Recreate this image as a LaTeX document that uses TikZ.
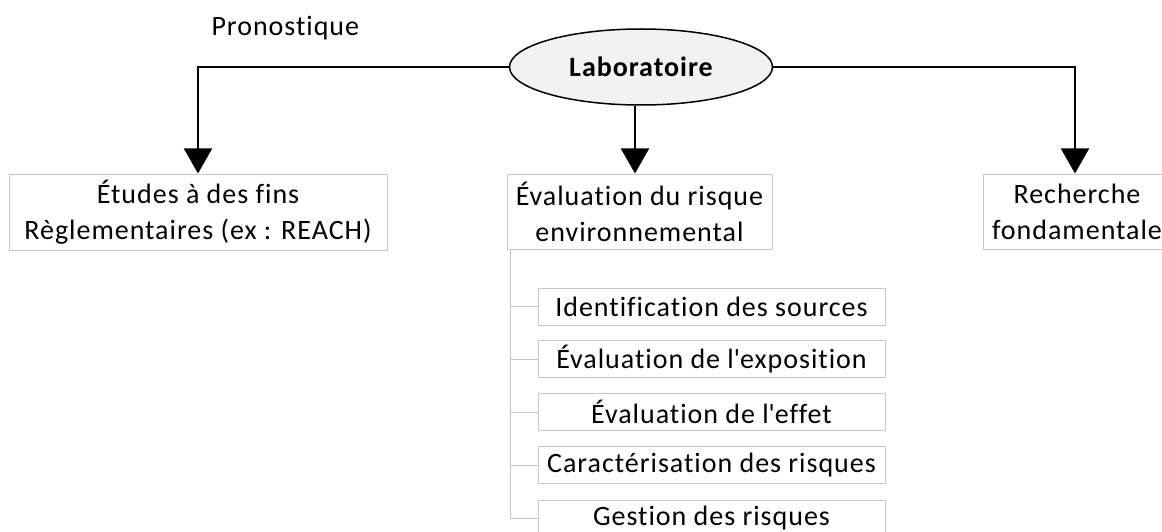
\documentclass[tikz,border=0pt]{standalone}
\usepackage{fontspec}
\setmainfont[Ligatures={NoCommon},LetterSpace=3.5]{Carlito}
\usetikzlibrary{arrows.meta,shapes.geometric,calc}
\definecolor{boxgray}{HTML}{C8C8C8}
\definecolor{ellfill}{HTML}{F2F2F2}
\tikzset{
  box/.style={draw=boxgray,line width=1pt,rectangle,align=center,inner sep=0pt,
    font=\fontsize{28}{36}\selectfont},
  subbox/.style={box,minimum width=347pt,minimum height=37pt},
  conn/.style={line width=1.8pt,-{Triangle[width=28pt,length=25pt]}},
  tree/.style={draw=boxgray,line width=1pt}
}
\begin{document}
\begin{tikzpicture}[x=1pt,y=-1pt]
\useasboundingbox (0,0) rectangle (1162,532);
\node[anchor=west,font=\fontsize{28}{32}\selectfont] (pro) at (208,28) {Pronostique};
\node[ellipse,draw=black,fill=ellfill,line width=1.5pt,minimum width=263pt,minimum height=76pt,inner sep=0pt,
  font=\fontsize{28}{32}\selectfont\bfseries] (lab) at (641,67) {Laboratoire};
\node[box,minimum width=378pt,minimum height=76pt] (etu) at (198,212) {Études à des fins\\Règlementaires (ex : REACH)};
\node[box,minimum width=265pt,minimum height=75pt] (eva) at (639.5,211.5) {Évaluation du risque\\environnemental};
\node[box,minimum width=188pt,minimum height=75pt] (rec) at (1077,211.5) {Recherche\\fondamentale};
\node[subbox] (s1) at (711.5,306.5) {Identification des sources};
\node[subbox] (s2) at (711.5,359) {Évaluation de l\textquotesingle exposition};
\node[subbox] (s3) at (711.5,412) {Évaluation de l\textquotesingle effet};
\node[subbox] (s4) at (711.5,465) {Caractérisation des risques};
\node[subbox] (s5) at (711.5,518.5) {Gestion des risques};
\draw[conn] (lab.west) -| (etu.north);
\draw[conn] (lab.east) -| ($(rec.north)+(-2,0)$);
\draw[conn] ($(lab.south)+(-6,0)$) -- ($(eva.north)+(-4.5,0)$);
\coordinate (tr) at ($(eva.south west)+(4,0)$);
\draw[tree] (tr) |- (s5.west);
\foreach \s in {s1,s2,s3,s4} { \draw[tree] (tr |- \s.west) -- (\s.west); }
\end{tikzpicture}
\end{document}
